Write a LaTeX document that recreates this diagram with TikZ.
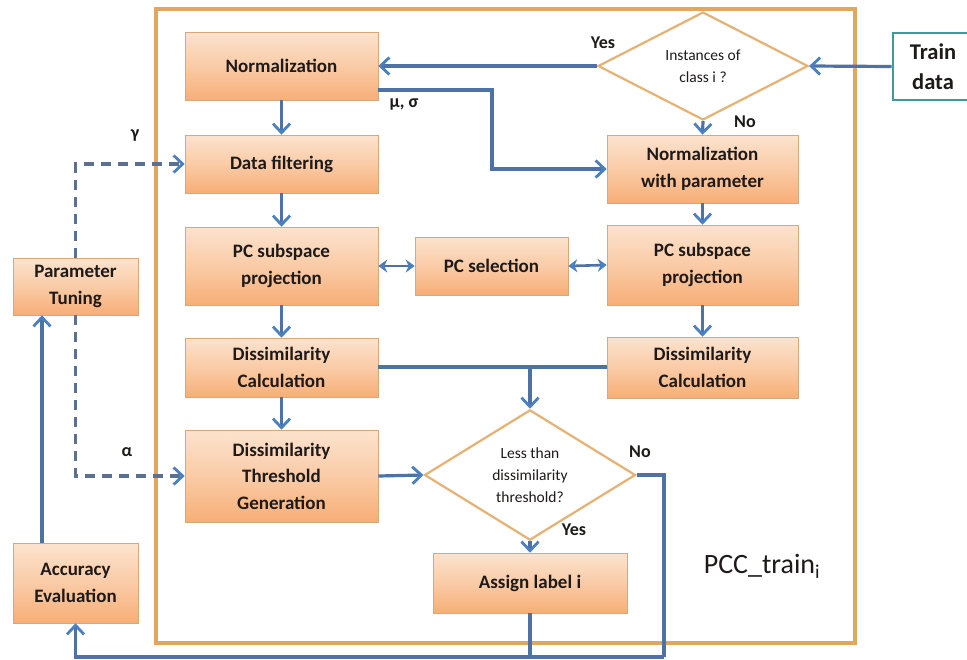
\documentclass[tikz,border=0pt]{standalone}
\usepackage{fontspec}
\setmainfont{Carlito}
\usetikzlibrary{arrows.meta,shapes.geometric,calc}
\definecolor{flowblue}{HTML}{4E72A6}
\definecolor{tipblue}{HTML}{4A80C0}
\definecolor{dashgray}{HTML}{5C7090}
\definecolor{frameorange}{HTML}{E2A65E}
\definecolor{boxedge}{HTML}{D8A878}
\definecolor{boxtop}{HTML}{FCE3CE}
\definecolor{boxbot}{HTML}{F7AE76}
\definecolor{diaedge}{HTML}{E6B274}
\definecolor{teal}{HTML}{3F9A9C}
\definecolor{ink}{HTML}{1E1A1A}
\tikzset{
  stepbox/.style={draw=boxedge, line width=0.6pt, top color=boxtop, bottom color=boxbot,
    middle color=boxtop!55!boxbot, text=ink, align=center, inner sep=2pt,
    font=\fontsize{19}{26.5}\selectfont\bfseries},
  decision/.style={diamond, draw=diaedge, line width=2.2pt, fill=white, text=ink, align=center,
    inner sep=0pt, font=\fontsize{15.5}{22}\selectfont},
  flow/.style={draw=flowblue, line width=3.2pt},
  tipA/.tip={Straight Barb[length=9pt,width=17pt,line width=2.8pt,color=tipblue]},
  tipB/.tip={Stealth[length=9pt,width=13pt,color=tipblue]},
  arr/.style={flow, -tipA},
  biarr/.style={flow, line width=2.6pt, tipB-tipB},
  dsh/.style={draw=dashgray, line width=3.2pt, dash pattern=on 10pt off 7pt, -tipA},
  tag/.style={text=ink, font=\fontsize{18}{20}\selectfont\bfseries}
}
\begin{document}
\begin{tikzpicture}[x=1pt,y=-1pt]
\useasboundingbox (0,0) rectangle (967,659);
\fill[white] (0,0) rectangle (967,659);

% outer training block
\draw[frameorange, line width=3.4pt] (156,9) rectangle (855,643);
\node[font=\fontsize{28}{32}\selectfont, text=ink] (pcc) at (762,566) {PCC\_train\textsubscript{i}};

% process boxes
\node[stepbox, minimum width=193pt, minimum height=68pt] (norm) at (281.5,66) {Normalization};
\node[stepbox, minimum width=193pt, minimum height=58pt] (filt) at (281.5,164) {Data filtering};
\node[stepbox, minimum width=193pt, minimum height=78pt] (pcl) at (281.5,266) {PC subspace\\projection};
\node[stepbox, minimum width=193pt, minimum height=59pt] (dl) at (281.5,367.5) {Dissimilarity\\Calculation};
\node[stepbox, minimum width=193pt, minimum height=92pt] (thr) at (281.5,476) {Dissimilarity\\Threshold\\Generation};
\node[stepbox, minimum width=153pt, minimum height=58pt] (pcs) at (491.5,266) {PC selection};
\node[stepbox, minimum width=191pt, minimum height=68pt] (nwp) at (702.5,169) {Normalization\\with parameter};
\node[stepbox, minimum width=191pt, minimum height=80pt] (pcr) at (702.5,265) {PC subspace\\projection};
\node[stepbox, minimum width=191pt, minimum height=61pt] (dr) at (702.5,367.5) {Dissimilarity\\Calculation};
\node[stepbox, minimum width=194pt, minimum height=60pt] (asn) at (530,583) {Assign label i};
\node[stepbox, minimum width=125pt, minimum height=57pt] (pt) at (75.5,286.5) {Parameter\\Tuning};
\node[stepbox, minimum width=125pt, minimum height=80pt] (acc) at (75.5,583) {Accuracy\\Evaluation};

% decisions
\node[decision, minimum width=210pt, minimum height=88pt] (inst) at (703,66) {Instances of\\class i ?};
\node[decision, minimum width=211pt, minimum height=90pt] (less) at (530,475) {Less than\\dissimilarity\\threshold?};

% input data
\node[draw=teal, line width=2.8pt, fill=white, text=ink, align=center, minimum width=80pt,
  minimum height=67pt, font=\fontsize{22.5}{30}\selectfont\bfseries] (train) at (933,66.5) {Train\\data};

% main flow
\draw[arr] (train.west) -- (inst.east);
\draw[arr] (inst.west) -- (norm.east);
\node[tag] (yes1) at (603,43) {Yes};
\draw[arr] (inst.south) -- (nwp.north);
\node[tag] (no1) at (745,122) {No};
\coordinate (mu) at (492,90);
\draw[arr] (norm.east |- mu) -- (mu) |- (nwp.west);
\node[tag] (musig) at (404,105) {μ, σ};

\draw[arr] (norm.south) -- (filt.north);
\draw[arr] (filt.south) -- (pcl.north);
\draw[arr] (pcl.south) -- (dl.north);
\draw[arr] (dl.south) -- (thr.north);
\draw[arr] (nwp.south) -- (pcr.north);
\draw[arr] (pcr.south) -- (dr.north);
\draw[biarr] (pcl.east) -- (pcs.west);
\draw[biarr] (pcs.east) -- (pcr.west);

\coordinate (join) at (530,367);
\draw[flow] (dl.east |- join) -- (dr.west |- join);
\draw[arr] (join) -- (less.north);
\draw[arr] (thr.east) -- (less.west);
\draw[arr] (less.south) -- (asn.north);
\node[tag] (yes2) at (574,530) {Yes};
\node[tag] (no2) at (640,452) {No};

% feedback to evaluation
\coordinate (nr) at (664,657);
\coordinate (bl) at (75.5,657);
\draw[flow] (less.east) -| (nr);
\draw[flow] (asn.south) -- (asn.south |- nr);
\draw[arr] (nr) -- (bl) -- (acc.south);
\draw[arr] ([xshift=-33.5pt]acc.north) -- ([xshift=-33.5pt]pt.south);

% tuned parameters
\draw[dsh] (pt.north) |- (filt.west);
\node[tag] (gamma) at (135,136) {γ};
\draw[dsh] (pt.south) |- (thr.west);
\node[tag] (alpha) at (127,452) {α};
\end{tikzpicture}
\end{document}
